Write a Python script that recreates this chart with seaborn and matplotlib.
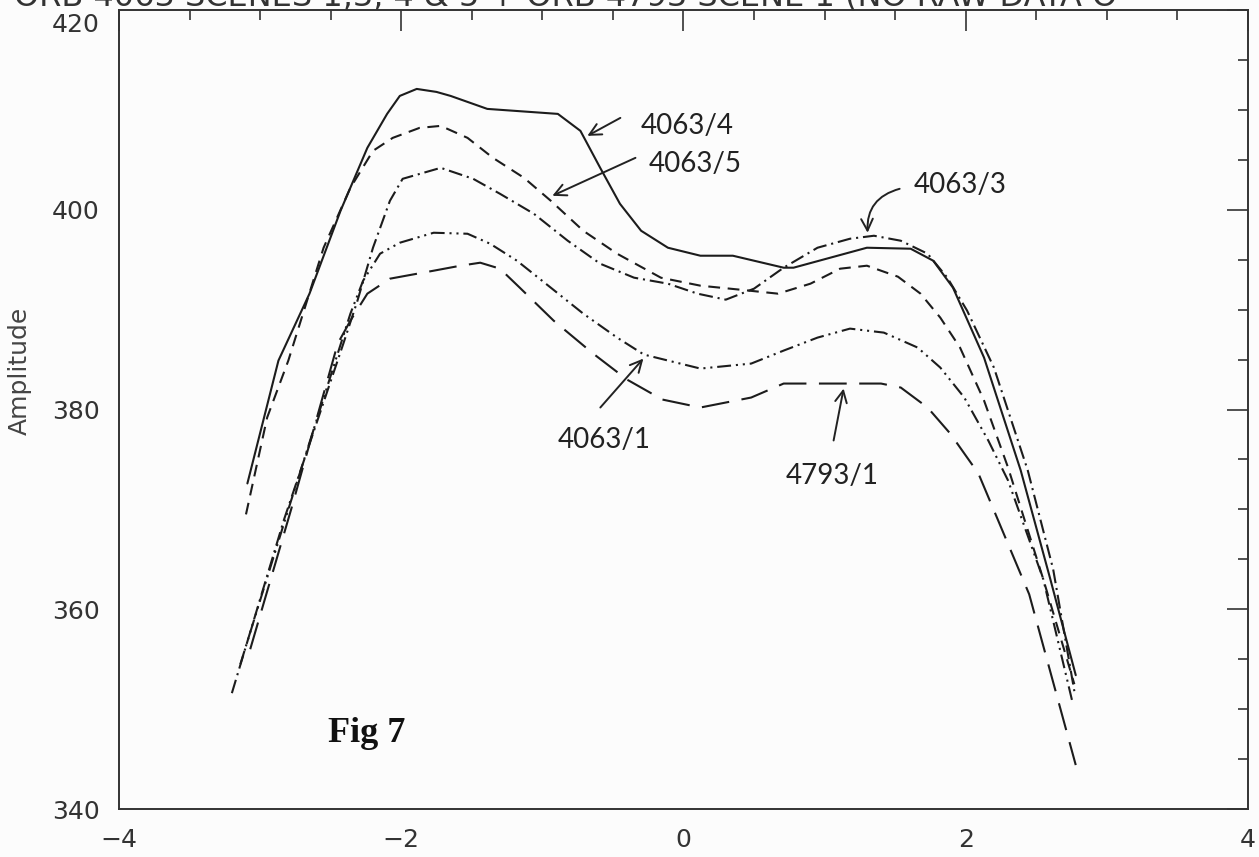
import matplotlib
matplotlib.use("Agg")
import matplotlib.pyplot as plt
import matplotlib.transforms as mtransforms
import numpy as np
import pandas as pd
import seaborn as sns

# readings from the scanned figure, x offset vs amplitude
x_4063_4 = [-3.09, -2.87, -2.65, -2.43, -2.24, -2.10, -2.01, -1.89, -1.75, -1.65, -1.39,
            -0.99, -0.89, -0.73, -0.59, -0.45, -0.30, -0.11, 0.12, 0.35, 0.71, 0.78, 1.30,
            1.61, 1.77, 1.91, 2.13, 2.39, 2.60, 2.78]
y_4063_4 = [372.6, 384.9, 391.6, 399.9, 406.2, 409.6, 411.4, 412.1, 411.8, 411.4, 410.1,
            409.7, 409.6, 407.9, 404.2, 400.6, 397.9, 396.2, 395.4, 395.4, 394.2, 394.2, 396.2,
            396.1, 394.9, 392.2, 385.2, 373.9, 363.0, 353.4]

x_4063_5 = [-3.10, -2.95, -2.80, -2.55, -2.36, -2.20, -2.06, -1.87, -1.72, -1.53, -1.35,
            -1.13, -0.94, -0.71, -0.47, -0.16, 0.12, 0.40, 0.67, 0.90, 1.11, 1.30, 1.52,
            1.68, 1.82, 1.96, 2.13, 2.30, 2.55, 2.77]
y_4063_5 = [369.5, 379.2, 384.9, 396.2, 402.2, 405.9, 407.2, 408.2, 408.4, 407.2, 405.2,
            403.2, 400.9, 397.9, 395.6, 393.2, 392.4, 392.0, 391.6, 392.6, 394.1, 394.4, 393.3,
            391.6, 389.2, 386.2, 380.9, 374.2, 363.0, 352.5]

x_4063_3 = [-3.20, -2.83, -2.41, -2.31, -2.20, -2.08, -1.99, -1.72, -1.49, -1.30, -1.06,
            -0.82, -0.59, -0.35, -0.11, 0.10, 0.30, 0.50, 0.71, 0.95, 1.18, 1.35, 1.54,
            1.73, 1.87, 2.01, 2.20, 2.44, 2.62, 2.77]
y_4063_3 = [351.6, 369.0, 386.6, 390.9, 396.2, 400.9, 403.1, 404.2, 403.1, 401.6, 399.6,
            396.9, 394.6, 393.2, 392.6, 391.6, 391.0, 392.1, 394.2, 396.2, 397.1, 397.4, 396.9,
            395.6, 393.2, 389.9, 384.2, 373.9, 364.0, 351.8]

x_4063_1 = [-3.14, -2.80, -2.45, -2.36, -2.27, -2.15, -2.01, -1.77, -1.53, -1.37, -1.18,
            -0.94, -0.71, -0.47, -0.28, 0.12, 0.48, 0.71, 0.95, 1.18, 1.42, 1.66, 1.82,
            1.99, 2.16, 2.30, 2.55, 2.76]
y_4063_1 = [354.5, 370.0, 385.6, 389.6, 392.9, 395.6, 396.7, 397.7, 397.6, 396.6, 394.9,
            392.2, 389.6, 387.2, 385.5, 384.1, 384.6, 385.9, 387.2, 388.1, 387.7, 386.2, 384.2,
            381.2, 376.9, 372.9, 363.0, 350.5]

x_4793_1 = [-3.07, -2.78, -2.45, -2.36, -2.24, -2.08, -1.77, -1.58, -1.44, -1.30, -1.16,
            -0.92, -0.64, -0.40, -0.15, 0.12, 0.48, 0.71, 1.06, 1.40, 1.54, 1.73, 1.89,
            2.09, 2.45, 2.78]
y_4793_1 = [356.0, 370.0, 386.6, 388.9, 391.6, 393.1, 393.9, 394.4, 394.7, 394.1, 392.2,
            388.9, 385.6, 383.0, 381.0, 380.2, 381.2, 382.6, 382.6, 382.6, 382.2, 380.2, 377.6,
            373.6, 361.5, 344.4]

scene_names = ["4063/4", "4063/5", "4063/3", "4063/1", "4793/1"]
scene_x = [x_4063_4, x_4063_5, x_4063_3, x_4063_1, x_4793_1]
scene_y = [y_4063_4, y_4063_5, y_4063_3, y_4063_1, y_4793_1]

INK = "#1c1c1c"

sns.set_theme(style="white")
plt.rcParams["font.family"] = ["DejaVu Sans"]
plt.rcParams["lines.scale_dashes"] = False

frames = []
for name, xs, ys in zip(scene_names, scene_x, scene_y):
    frames.append(pd.DataFrame({"x": xs, "amplitude": ys, "scene": name}))
df = pd.concat(frames, ignore_index=True)

dash_map = {
    "4063/4": "",
    "4063/5": (8.5, 5.5),
    "4063/3": (10, 3.5, 1.5, 3.5),
    "4063/1": (10, 3.5, 1.5, 3.5, 1.5, 3.5),
    "4793/1": (20, 9),
}

fig = plt.figure(figsize=(12.59, 8.57), dpi=100, facecolor="#fcfcfc")
ax = fig.add_axes([0.0945, 0.056, 0.8967, 0.9323])
ax.set_facecolor("#fcfcfc")

sns.lineplot(data=df, x="x", y="amplitude", hue="scene", style="scene",
             palette={n: INK for n in scene_names}, dashes=dash_map,
             sort=False, estimator=None, legend=False, linewidth=1.5, ax=ax)

ax.set_xlim(-4, 4)
ax.set_ylim(340, 420)
ax.set_xticks([-4, -2, 0, 2, 4])
ax.set_xticks(np.arange(-4, 4.01, 0.5), minor=True)
ax.set_yticks([340, 360, 380, 400, 420])
ax.set_yticks(np.arange(340, 420.1, 5), minor=True)
ax.tick_params(which="both", direction="in", top=True, right=True, color="#333333", width=1.2)
ax.tick_params(which="major", length=15, labelsize=18, pad=14, labelcolor="#333333")
ax.tick_params(which="minor", length=7.5)
for side in ax.spines.values():
    side.set_visible(True)
    side.set_color("#333333")
    side.set_linewidth(1.4)

# the top label sits a little below its tick in the scan
top_label = ax.yaxis.get_major_ticks()[-1].label1
top_label.set_transform(top_label.get_transform()
                        + mtransforms.ScaledTranslation(0, -9 / 72, fig.dpi_scale_trans))

ax.set_xlabel("")
ax.set_ylabel("Amplitude", fontsize=18, color="#444444")
ax.yaxis.set_label_coords(-0.077, 0.548)

# handwritten-style labels and arrows
hand = dict(fontsize=20, color="#222222", family="Lato", va="center")
arrow = dict(arrowstyle="->,head_length=0.7,head_width=0.35", lw=1.4, color="#222222",
             shrinkA=0, shrinkB=0)

ax.text(-0.305, 408.4, "4063/4", **hand)
ax.annotate("", xy=(-0.681, 407.4), xytext=(-0.447, 409.2), arrowprops=arrow)

ax.text(-0.248, 404.6, "4063/5", **hand)
ax.annotate("", xy=(-0.929, 401.4), xytext=(-0.340, 405.2), arrowprops=arrow)

ax.text(1.631, 402.5, "4063/3", **hand)
ax.annotate("", xy=(1.305, 397.7), xytext=(1.532, 402.1),
            arrowprops=dict(arrow, connectionstyle="arc3,rad=0.4"))

ax.text(-0.894, 376.9, "4063/1", **hand)
ax.annotate("", xy=(-0.284, 385.1), xytext=(-0.589, 380.2), arrowprops=arrow)

ax.text(0.723, 373.3, "4793/1", **hand)
ax.annotate("", xy=(1.135, 382.1), xytext=(1.064, 376.9), arrowprops=arrow)

ax.text(-2.518, 346.7, "Fig 7", fontsize=26, fontweight="bold", family="Liberation Serif",
        color="#111111", va="baseline")

# title line of the scanned page, mostly cut off at the top edge
fig.text(14 / 1259, 1 - 5 / 857, "ORB 4063 SCENES 1,3, 4 & 5 + ORB 4793 SCENE 1 (NO RAW DATA O",
         fontsize=23, color="#333333", va="baseline", ha="left")

fig.savefig("out.png", dpi=100, facecolor=fig.get_facecolor())
